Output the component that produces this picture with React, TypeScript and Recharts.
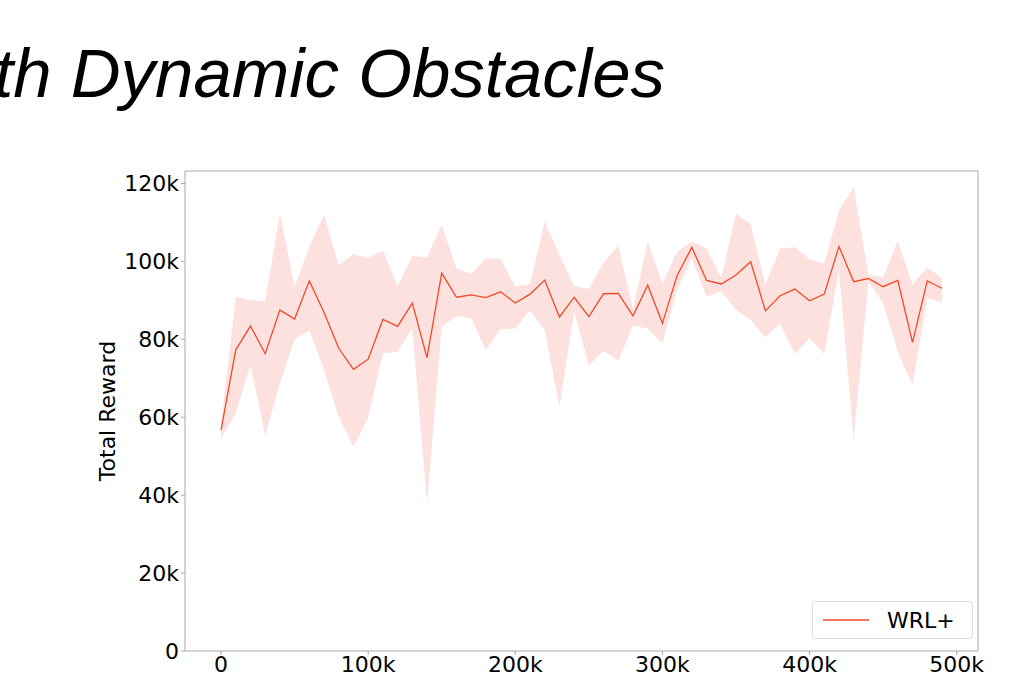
import { ComposedChart, Area, Line, XAxis, YAxis, Legend, ReferenceLine } from 'recharts'

const steps = [
    0, 10000, 20000, 30000, 40000, 50000, 60000, 70000, 80000, 90000,
    100000, 110000, 120000, 130000, 140000, 150000, 160000, 170000, 180000, 190000,
    200000, 210000, 220000, 230000, 240000, 250000, 260000, 270000, 280000, 290000,
    300000, 310000, 320000, 330000, 340000, 350000, 360000, 370000, 380000, 390000,
    400000, 410000, 420000, 430000, 440000, 450000, 460000, 470000, 480000, 490000,
]

const meanReward = [
    56700, 77300, 83400, 76300, 87500, 85200, 95000, 86900, 77700, 72300,
    74900, 85100, 83300, 89300, 75300, 97000, 90800, 91400, 90700, 92200,
    89300, 91600, 95200, 85700, 90800, 85800, 91700, 91800, 86000, 93900,
    84100, 96400, 103600, 95100, 94200, 96500, 99900, 87300, 91200, 92900,
    89900, 91600, 103800, 94800, 95600, 93500, 95100, 79200, 95000, 93100,
]

const upperReward = [
    58300, 90900, 90100, 89700, 112400, 93400, 103800, 111900, 99000, 101900,
    100800, 102800, 93700, 101400, 101000, 109400, 98200, 96800, 100800, 100600,
    93500, 94200, 110200, 101700, 93700, 92900, 99700, 104000, 87700, 105100,
    94200, 102500, 105100, 103400, 95700, 112200, 109600, 94000, 103300, 103600,
    100600, 99400, 113100, 119000, 96500, 95900, 105300, 94000, 98500, 95700,
]

const lowerReward = [
    54600, 61000, 73400, 55300, 68700, 80000, 82200, 72100, 60200, 52400,
    60000, 76400, 76800, 82800, 38000, 83300, 86000, 85400, 77300, 82600,
    82800, 87400, 82400, 62700, 87100, 73400, 77000, 74500, 83500, 82800,
    79000, 92700, 100800, 91000, 92300, 87600, 85000, 80500, 83900, 76200,
    80300, 76200, 97800, 54300, 94800, 89300, 76800, 68300, 90600, 89400,
]

const xTicks = [0, 100000, 200000, 300000, 400000, 500000]
const yTicks = [0, 20000, 40000, 60000, 80000, 100000, 120000]

const X_DOMAIN: [number, number] = [-24500, 514500]
const Y_DOMAIN: [number, number] = [0, 123200]

const data = steps.map((step, i) => ({
    step,
    mean: meanReward[i],
    band: [lowerReward[i], upperReward[i]],
}))

const LINE_COLOR = '#ee4b2b'
const BAND_COLOR = '#fde1de'
const SPINE = '#a8a8a8'
const FONT = '"DejaVu Sans", sans-serif'

const fmt = (v: number) => (v === 0 ? '0' : `${v / 1000}k`)

const renderLegend = (props: any) => {
    const item = (props.payload || []).find((p: any) => p.dataKey === 'mean')
    if (!item) return null
    return (
        <div
            style={{
                width: 161,
                height: 38,
                boxSizing: 'border-box',
                border: '1px solid #dcdcdc',
                borderRadius: 4,
                background: '#fff',
                display: 'flex',
                alignItems: 'center',
                fontFamily: FONT,
                fontSize: 22,
                color: '#000',
            }}
        >
            <svg width={58} height={36}>
                <line x1={10} x2={56} y1={18} y2={18} stroke={item.color} strokeWidth={1.5} />
            </svg>
            <span style={{ marginLeft: 16 }}>{item.value}</span>
        </div>
    )
}

const App = () => {
    return (
        <div style={{ position: 'absolute', left: 0, top: 0, width: 1030, height: 675, background: '#fff' }}>
            <div
                style={{
                    position: 'absolute',
                    left: -6,
                    top: 39,
                    fontFamily: '"Liberation Sans", Arial, sans-serif',
                    fontStyle: 'italic',
                    fontSize: 69,
                    lineHeight: '69px',
                    whiteSpace: 'nowrap',
                    color: '#000',
                }}
            >
                th Dynamic Obstacles
            </div>
            <div style={{ position: 'absolute', left: 0, top: 0 }}>
                <ComposedChart
                    width={1030}
                    height={675}
                    data={data}
                    margin={{ top: 171, right: 52, bottom: 0, left: 0 }}
                    style={{ fontFamily: FONT }}
                >
                    <XAxis
                        dataKey="step"
                        type="number"
                        domain={X_DOMAIN}
                        ticks={xTicks}
                        tickFormatter={fmt}
                        height={24}
                        tickSize={4}
                        tickMargin={1}
                        stroke={SPINE}
                        tick={{ fill: '#000', fontSize: 22 }}
                        allowDataOverflow
                    />
                    <YAxis
                        type="number"
                        domain={Y_DOMAIN}
                        ticks={yTicks}
                        tickFormatter={fmt}
                        width={185}
                        tickSize={4}
                        tickMargin={2}
                        stroke={SPINE}
                        tick={{ fill: '#000', fontSize: 22 }}
                        allowDataOverflow
                        label={({ viewBox }: any) => (
                            <text
                                x={viewBox.x + viewBox.width - 78}
                                y={viewBox.y + viewBox.height / 2}
                                transform={`rotate(-90 ${viewBox.x + viewBox.width - 78} ${viewBox.y + viewBox.height / 2})`}
                                textAnchor="middle"
                                dominantBaseline="central"
                                fontSize={22}
                                fill="#000"
                                fontFamily={FONT}
                            >
                                Total Reward
                            </text>
                        )}
                    />
                    <Area
                        dataKey="band"
                        stroke="none"
                        fill={BAND_COLOR}
                        fillOpacity={1}
                        legendType="none"
                        isAnimationActive={false}
                        dot={false}
                        activeDot={false}
                    />
                    <Line
                        dataKey="mean"
                        name="WRL+"
                        stroke={LINE_COLOR}
                        strokeWidth={1.3}
                        dot={false}
                        activeDot={false}
                        isAnimationActive={false}
                    />
                    {/* top and right spines */}
                    <ReferenceLine y={Y_DOMAIN[1]} stroke={SPINE} ifOverflow="visible" />
                    <ReferenceLine x={X_DOMAIN[1]} stroke={SPINE} ifOverflow="visible" />
                    <Legend
                        layout="vertical"
                        align="center"
                        verticalAlign="middle"
                        wrapperStyle={{ left: 812, top: 601, width: 161 }}
                        content={renderLegend}
                    />
                </ComposedChart>
            </div>
        </div>
    )
}

export default App
